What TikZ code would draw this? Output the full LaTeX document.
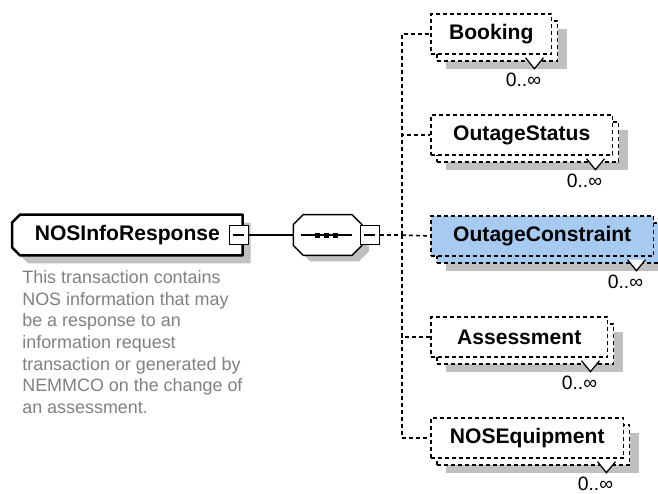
\documentclass[tikz,border=0pt]{standalone}
\usepackage{fontspec}
\setmainfont{Liberation Sans}
\usetikzlibrary{positioning,shadows,backgrounds}

\definecolor{shade}{HTML}{C0C0C0}
\definecolor{selblue}{HTML}{A6CAF0}
\definecolor{docgray}{HTML}{808080}

\tikzset{card/.style={rectangle, draw, fill=#1, dash pattern=on 0.08cm off 0.06cm,
    line width=0.03cm, minimum height=0.8cm, inner sep=0pt,
    font=\fontsize{12}{14}\selectfont\bfseries,
    general shadow={fill=shade, shadow xshift=0.3cm, shadow yshift=-0.3cm},
    general shadow={fill=#1, draw, dash pattern=on 0.08cm off 0.06cm, line width=0.03cm,
      shadow xshift=0.12cm, shadow yshift=-0.14cm}},
  card/.default=white}
\tikzstyle{rootlabel} = [rectangle, minimum width=4.6cm, minimum height=0.8cm, inner sep=0pt,
    font=\fontsize{12}{14}\selectfont\bfseries]
\tikzstyle{rootline} = [draw, fill=white, line width=0.05cm, line join=round,
    general shadow={fill=shade, shadow xshift=0.16cm, shadow yshift=-0.16cm}]
\tikzstyle{seqline} = [draw, fill=white, line width=0.03cm,
    general shadow={fill=shade, shadow xshift=0.14cm, shadow yshift=-0.12cm}]
\tikzstyle{expander} = [rectangle, draw, fill=white, line width=0.025cm, minimum size=0.38cm, inner sep=0pt,
    path picture={\draw[line width=0.03cm] ([xshift=0.08cm]path picture bounding box.west)
      -- ([xshift=-0.08cm]path picture bounding box.east);}]
\tikzstyle{link} = [line width=0.03cm]
\tikzstyle{optlink} = [line width=0.03cm, dash pattern=on 0.08cm off 0.06cm]
\tikzstyle{notch} = [line width=0.025cm, fill=white]
\tikzstyle{mult} = [inner sep=0pt, font=\fontsize{11}{13}\selectfont]
\tikzstyle{doc} = [inner sep=0pt, align=left, text=docgray, font=\fontsize{10.2}{12.35}\selectfont]

\begin{document}
\begin{tikzpicture}
    [x=0.02cm, y=-0.02cm, node distance = 2.02cm]
  \useasboundingbox (0,0) rectangle (658,493);
  \clip (0,0) rectangle (658,493);

  % root element and its sequence
  \node[rootlabel, anchor=west] (root) at (12,235) {NOSInfoResponse\hspace{0.28cm}};
  \node[expander] (rootminus) at ([xshift=-0.08cm]root.east) {};
  \node[doc, anchor=north west] (rootdoc) at (22,270) {This transaction contains\\NOS information that may\\be a response to an\\information request\\transaction or generated by\\NEMMCO on the change of\\an assessment.};
  \node[rectangle, minimum width=1.36cm, minimum height=0.8cm, inner sep=0pt,
        right=0.89cm of rootminus.east, anchor=west] (seq) {};
  \node[expander] (seqminus) at ([xshift=0.16cm]seq.east) {};
  \coordinate (fork) at (402,235);

  \begin{scope}[on background layer]
    \path[rootline] ([shift={(8,0)}]root.north west) -- (root.north east) -- (root.south east)
      -- ([shift={(8,0)}]root.south west) -- ([shift={(0,-8)}]root.south west)
      -- ([shift={(0,8)}]root.north west) -- cycle;
    \path[seqline] ([shift={(10,0)}]seq.north west) -- ([shift={(-10,0)}]seq.north east)
      -- ([shift={(0,10)}]seq.north east) -- ([shift={(0,-10)}]seq.south east)
      -- ([shift={(-10,0)}]seq.south east) -- ([shift={(10,0)}]seq.south west)
      -- ([shift={(0,-10)}]seq.south west) -- ([shift={(0,10)}]seq.north west) -- cycle;
  \end{scope}

  \draw[link] ([xshift=0.16cm]seq.west) -- ([xshift=-0.2cm]seq.east);
  \fill ([shift={(-12.5,-2.5)}]seq.center) rectangle ([shift={(-7.5,2.5)}]seq.center);
  \fill ([shift={(-3.5,-2.5)}]seq.center) rectangle ([shift={(1.5,2.5)}]seq.center);
  \fill ([shift={(5.5,-2.5)}]seq.center) rectangle ([shift={(10.5,2.5)}]seq.center);

  % child elements
  \node[card, minimum width=2.42cm, anchor=west] (booking) at (430,34) {Booking};
  \node[card, minimum width=3.64cm, below=of booking.west, anchor=west] (status) {OutageStatus};
  \node[card=selblue, minimum width=4.46cm, below=of status.west, anchor=west] (constraint) {OutageConstraint};
  \node[card, minimum width=3.54cm, below=of constraint.west, anchor=west] (assess) {Assessment};
  \node[card, minimum width=3.86cm, below=of assess.west, anchor=west] (equip) {NOSEquipment};

  % connectors
  \draw[link] (rootminus) -- (seq);
  \draw[optlink] (seqminus) -- (fork);
  \draw[optlink] (fork) |- (booking.west);
  \draw[optlink] (fork) |- (status.west);
  \draw[optlink] (fork) -- (constraint.west);
  \draw[optlink] (fork) |- (assess.west);
  \draw[optlink] (fork) |- (equip.west);

  % multiplicities
  \draw[notch] ([shift={(-27,3)}]booking.south east) -- ([shift={(-18,14)}]booking.south east) -- ([shift={(-9,3)}]booking.south east);
  \draw[notch] ([shift={(-27,3)}]status.south east) -- ([shift={(-18,14)}]status.south east) -- ([shift={(-9,3)}]status.south east);
  \draw[notch] ([shift={(-27,3)}]constraint.south east) -- ([shift={(-18,14)}]constraint.south east) -- ([shift={(-9,3)}]constraint.south east);
  \draw[notch] ([shift={(-27,3)}]assess.south east) -- ([shift={(-18,14)}]assess.south east) -- ([shift={(-9,3)}]assess.south east);
  \draw[notch] ([shift={(-27,3)}]equip.south east) -- ([shift={(-18,14)}]equip.south east) -- ([shift={(-9,3)}]equip.south east);
  \node[mult] (bookingmult) at ([shift={(-29,25)}]booking.south east) {0..∞};
  \node[mult] (statusmult) at ([shift={(-29,25)}]status.south east) {0..∞};
  \node[mult] (constraintmult) at ([shift={(-29,25)}]constraint.south east) {0..∞};
  \node[mult] (assessmult) at ([shift={(-29,25)}]assess.south east) {0..∞};
  \node[mult] (equipmult) at ([shift={(-29,25)}]equip.south east) {0..∞};
\end{tikzpicture}
\end{document}
